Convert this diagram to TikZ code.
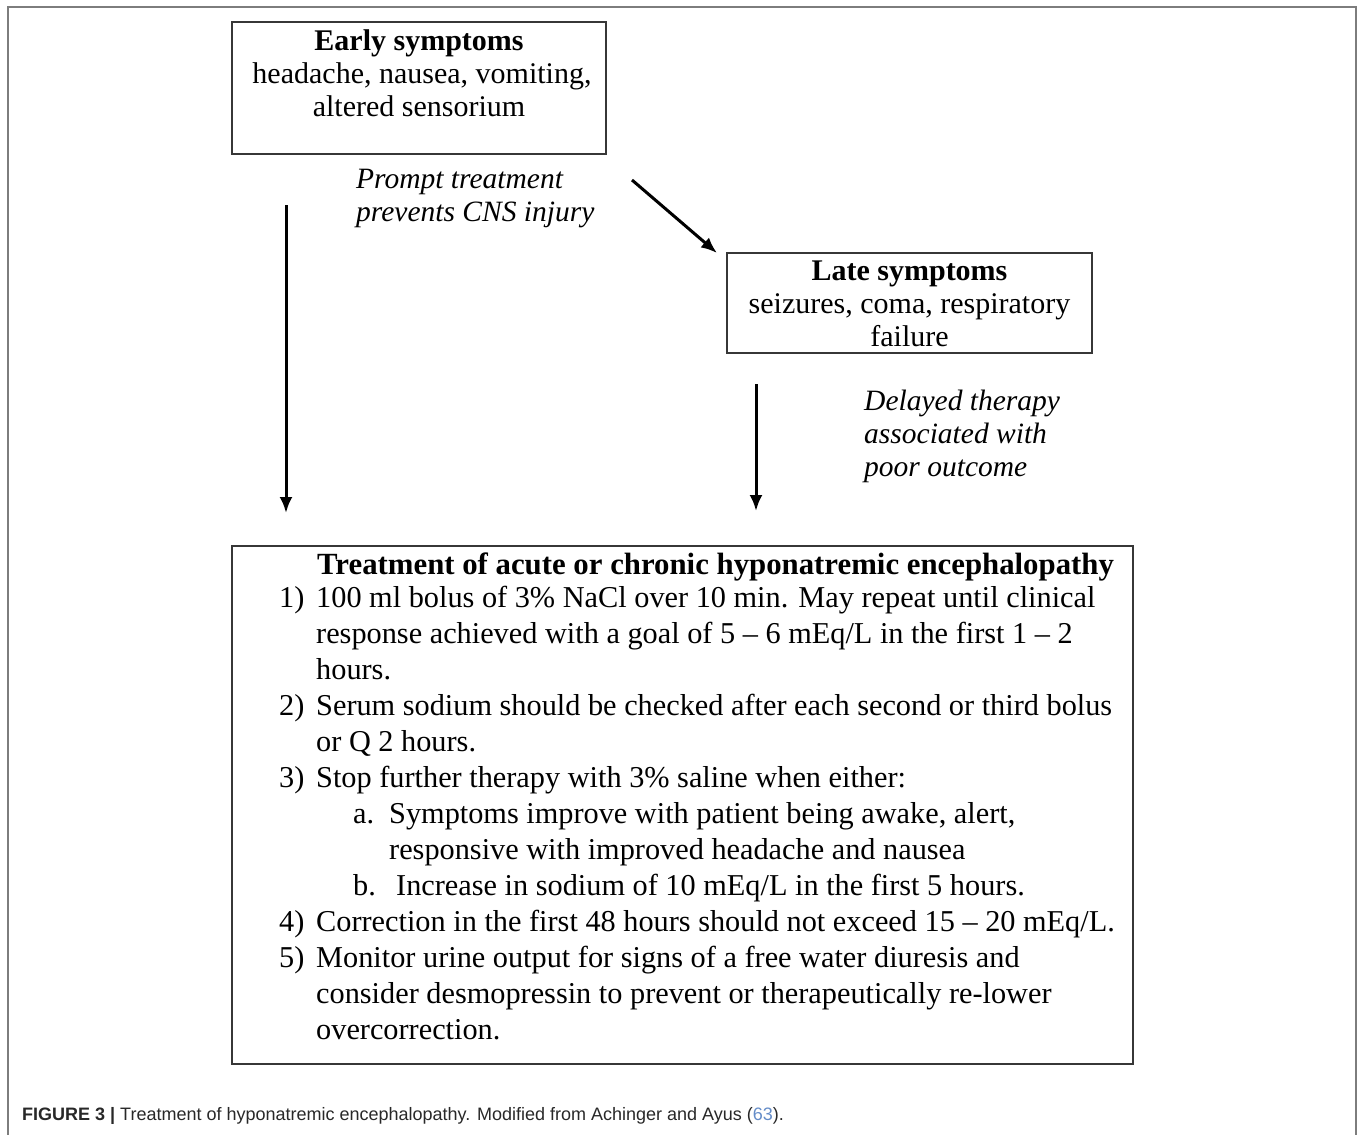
\documentclass[tikz,border=0pt]{standalone}
\usepackage{fontspec}
\setmainfont{Liberation Serif}
\newfontfamily\capfont{Liberation Sans}
\usetikzlibrary{arrows.meta}
\definecolor{boxline}{RGB}{55,55,55}
\definecolor{framegray}{RGB}{125,125,125}
\definecolor{refblue}{RGB}{100,140,200}
\definecolor{captext}{RGB}{40,40,40}
\begin{document}
\begin{tikzpicture}[x=1pt,y=-1pt,
  box/.style={draw=boxline,line width=1.3pt,inner sep=0pt,outer sep=0pt},
  txt/.style={anchor=base,inner sep=0pt,font=\fontsize{30}{33}\selectfont},
  itxt/.style={anchor=base west,inner sep=0pt,font=\fontsize{29.5}{33}\selectfont\itshape},
  ltxt/.style={anchor=base west,inner sep=0pt,font=\fontsize{30.3}{36}\selectfont},
  arr/.style={line width=3pt,-{Latex[length=16pt,width=13pt]}}]
\useasboundingbox (0,0) rectangle (1358,1135);
% outer frame
\draw[framegray,line width=2pt] (7.5,1135) -- (7.5,6.5) -- (1355.5,6.5) -- (1355.5,1135);
% boxes
\node[box,minimum width=374pt,minimum height=132pt] (early) at (419,88) {};
\node[box,minimum width=365pt,minimum height=100pt] (late) at (909.5,303) {};
\node[box,minimum width=901pt,minimum height=518pt] (treat) at (682.5,805) {};
% early symptoms text
\node[txt] (e1) at (419,50) {\textbf{Early symptoms}};
\node[txt] (e2) at (422,83) {headache, nausea, vomiting,};
\node[txt] (e3) at (419,116) {altered sensorium};
% late symptoms text
\node[txt] (l1) at (909.5,280) {\textbf{Late symptoms}};
\node[txt] (l2) at (909.5,313) {seizures, coma, respiratory};
\node[txt] (l3) at (909.5,346) {failure};
% italic labels
\node[itxt] (p1) at (356,188) {Prompt treatment};
\node[itxt] (p2) at (356,221) {prevents CNS injury};
\node[itxt] (d1) at (864,410) {Delayed therapy};
\node[itxt] (d2) at (864,443) {associated with};
\node[itxt] (d3) at (864,476) {poor outcome};
% arrows
\coordinate (a1s) at (286,205);
\coordinate (a1e) at (286,513);
\coordinate (a2s) at (632,180);
\coordinate (a2e) at (717,253);
\coordinate (a3s) at (756,384);
\coordinate (a3e) at (756,511);
\draw[arr] (a1s) -- (a1e);
\draw[arr] (a2s) -- (a2e);
\draw[arr] (a3s) -- (a3e);
% treatment box text
\node[ltxt,font=\fontsize{30.8}{36}\selectfont] (t0) at (317,574) {\textbf{Treatment of acute or chronic hyponatremic encephalopathy}};
\node[ltxt] (n1) at (279,607) {1)};
\node[ltxt] (t1a) at (316,607) {100 ml bolus of 3\% NaCl over 10 min. May repeat until clinical};
\node[ltxt] (t1b) at (316,643) {response achieved with a goal of 5 – 6 mEq/L in the first 1 – 2};
\node[ltxt] (t1c) at (316,679) {hours.};
\node[ltxt] (n2) at (279,715) {2)};
\node[ltxt] (t2a) at (316,715) {Serum sodium should be checked after each second or third bolus};
\node[ltxt] (t2b) at (316,751) {or Q 2 hours.};
\node[ltxt] (n3) at (279,787) {3)};
\node[ltxt] (t3a) at (316,787) {Stop further therapy with 3\% saline when either:};
\node[ltxt] (na) at (353,823) {a.};
\node[ltxt] (tAa) at (389,823) {Symptoms improve with patient being awake, alert,};
\node[ltxt] (tAb) at (389,859) {responsive with improved headache and nausea};
\node[ltxt] (nb) at (353,895) {b.};
\node[ltxt] (tB) at (396,895) {Increase in sodium of 10 mEq/L in the first 5 hours.};
\node[ltxt] (n4) at (279,931) {4)};
\node[ltxt] (t4) at (316,931) {Correction in the first 48 hours should not exceed 15 – 20 mEq/L.};
\node[ltxt] (n5) at (279,967) {5)};
\node[ltxt] (t5a) at (316,967) {Monitor urine output for signs of a free water diuresis and};
\node[ltxt] (t5b) at (316,1003) {consider desmopressin to prevent or therapeutically re-lower};
\node[ltxt] (t5c) at (316,1039) {overcorrection.};
% caption
\node[anchor=base west,inner sep=0pt,text=captext,font=\capfont\fontsize{18}{20}\selectfont] (cap) at (22,1120)
  {\textbf{FIGURE 3 |} Treatment of hyponatremic encephalopathy. Modified from Achinger and Ayus (\textcolor{refblue}{63}).};
\end{tikzpicture}
\end{document}
